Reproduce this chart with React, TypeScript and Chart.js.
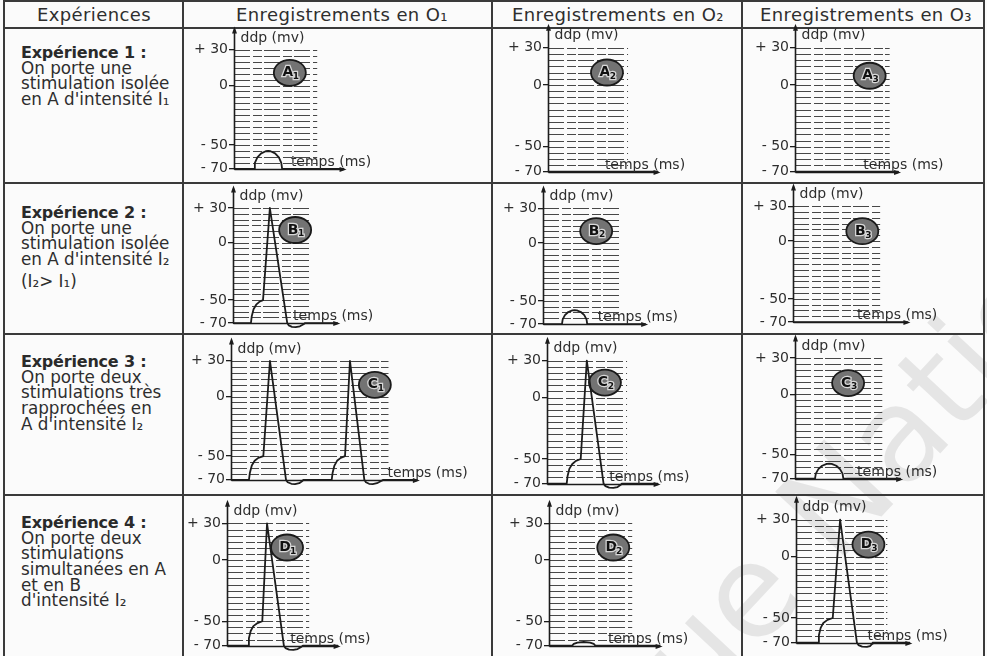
import React, { useEffect, useRef } from 'react';
import { Chart, registerables } from 'chart.js';

Chart.register(...registerables);

const FONT = '"DejaVu Sans", "Liberation Sans", sans-serif';

// ---------- text content ----------
const columnHeaders = ['Expériences', 'Enregistrements en O₁', 'Enregistrements en O₂', 'Enregistrements en O₃'];
const experimentTitles = ['Expérience 1 :', 'Expérience 2 :', 'Expérience 3 :', 'Expérience 4 :'];
const experimentLines = [
  ['On porte une', 'stimulation isolée', "en A d'intensité I₁"],
  ['On porte une', 'stimulation isolée', "en A d'intensité I₂", '(I₂> I₁)'],
  ['On porte deux', 'stimulations très', 'rapprochées en', "A d'intensité I₂"],
  ['On porte deux', 'stimulations', 'simultanées en A', 'et en B', "d'intensité I₂"],
];

// ---------- axis ticks ----------
const yTickValues = [30, 0, -50, -70];
const yTickLabels = ['+ 30', '0', '- 50', '- 70'];
const gridLevels = [30, 25, 20, 15, 10, 5, 0, -5, -10, -15, -20, -25, -30, -35, -40, -45, -50, -55, -60, -65];

// ---------- recordings: time (ms) / ddp (mV) ----------
const a1Time = [0, 1.9, 1.98, 2.22, 2.58, 3.01, 3.24, 3.47, 3.9, 4.26, 4.49, 4.57, 10.4];
const a1Ddp = [-70, -70, -64.9, -60.4, -57, -55.2, -55, -55.2, -57, -60.4, -64.9, -70, -70];
const a2Time = [0, 10.4];
const a2Ddp = [-70, -70];
const a3Time = [0, 9.8];
const a3Ddp = [-70, -70];

const b1Time = [0, 1.7, 1.78, 1.95, 2.2, 2.5, 2.85, 3.5, 5.15, 5.3, 5.6, 5.95, 6.35, 6.7, 6.85, 9.9];
const b1Ddp = [-70, -70, -64, -58, -54, -51.5, -50, 30, -70, -72, -73.3, -73.5, -72.8, -71, -70, -70];
const b2Time = [0, 1.8, 1.87, 2.08, 2.4, 2.79, 3.0, 3.21, 3.6, 3.92, 4.13, 4.2, 9.7];
const b2Ddp = [-70, -70, -65.9, -62.3, -59.6, -58.2, -58, -58.2, -59.6, -62.3, -65.9, -70, -70];
const b3Time = [0, 10.9];
const b3Ddp = [-70, -70];

const c1Time = [0, 1.71, 1.8, 1.98, 2.25, 2.6, 3.08, 3.71, 5.24, 5.4, 5.75, 6.1, 6.5, 6.8, 6.89,
  9.59, 9.68, 9.85, 10.1, 10.45, 10.86, 11.33, 12.7, 12.85, 13.15, 13.5, 13.9, 14.3, 14.5, 17.7];
const c1Ddp = [-70, -70, -64, -58, -54, -51.5, -50, 30, -70, -72, -73.3, -73.5, -72.8, -71, -70,
  -70, -64, -58, -54, -51.5, -50, 30, -70, -72, -73.3, -73.5, -72.8, -71, -70, -70];
const c2Time = [0, 1.87, 1.95, 2.12, 2.4, 2.75, 3.2, 3.78, 5.37, 5.55, 5.9, 6.3, 6.7, 7.0, 7.1, 10.5];
const c2Ddp = [-70, -70, -64, -58, -54, -51.5, -50, 30, -70, -72, -73.3, -73.5, -72.8, -71, -70, -70];
const c3Time = [0, 1.9, 1.98, 2.22, 2.58, 3.02, 3.25, 3.48, 3.93, 4.28, 4.52, 4.6, 10];
const c3Ddp = [-70, -70, -65.7, -62, -59.2, -57.7, -57.5, -57.7, -59.2, -62, -65.7, -70, -70];

const d1Time = [0, 2.0, 2.08, 2.25, 2.5, 2.9, 3.35, 3.8, 5.4, 5.55, 5.9, 6.3, 6.7, 7.05, 7.2, 10.5];
const d1Ddp = [-70, -70, -64, -58, -54, -51.5, -50, 30, -70, -72, -73.3, -73.5, -72.8, -71, -70, -70];
const d2Time = [0, 2.2, 2.35, 2.7, 3.3, 3.9, 4.25, 4.4, 10.5];
const d2Ddp = [-70, -70, -68.6, -67.5, -67, -67.5, -68.6, -70, -70];
const d3Time = [0, 2.1, 2.18, 2.35, 2.6, 3.0, 3.5, 4.2, 5.8, 5.95, 6.3, 6.75, 7.05, 7.25, 7.3, 10.8];
const d3Ddp = [-70, -70, -64, -58, -54, -51.5, -50, 30, -70, -72, -73.3, -73.5, -72.8, -71, -70, -70];

// ---------- layout ----------
const AXIS_W = 40; // room for y tick labels
const PXU = 10.5; // px per time unit
const Y_MAX = 50;
const Y_MIN = -76;

type Spec = {
  time: number[]; ddp: number[]; letter: string; sub: string;
  axisX: number; y30: number; y70: number;
  gridEnd: number; axisEnd: number; tempsX: number; badge: [number, number]; xMax: number;
};

const specs: Spec[] = [
  { time: a1Time, ddp: a1Ddp, letter: 'A', sub: '1', axisX: 234, y30: 50, y70: 169, gridEnd: 7.9, axisEnd: 10.4, tempsX: 5.4, badge: [5.3, 10.7], xMax: 15 },
  { time: a2Time, ddp: a2Ddp, letter: 'A', sub: '2', axisX: 548, y30: 48, y70: 172, gridEnd: 7.6, axisEnd: 10.4, tempsX: 5.4, badge: [5.6, 10], xMax: 15 },
  { time: a3Time, ddp: a3Ddp, letter: 'A', sub: '3', axisX: 795, y30: 48, y70: 172, gridEnd: 9.0, axisEnd: 9.8, tempsX: 6.5, badge: [7.1, 7.4], xMax: 15.5 },
  { time: b1Time, ddp: b1Ddp, letter: 'B', sub: '1', axisX: 233, y30: 208, y70: 323, gridEnd: 7.4, axisEnd: 9.9, tempsX: 5.7, badge: [5.9, 10.9], xMax: 15 },
  { time: b2Time, ddp: b2Ddp, letter: 'B', sub: '2', axisX: 543, y30: 208, y70: 324, gridEnd: 7.3, axisEnd: 9.7, tempsX: 5.2, badge: [5.05, 10.2], xMax: 15 },
  { time: b3Time, ddp: b3Ddp, letter: 'B', sub: '3', axisX: 793, y30: 206, y70: 322, gridEnd: 8.3, axisEnd: 10.9, tempsX: 6.1, badge: [6.6, 8.4], xMax: 16 },
  { time: c1Time, ddp: c1Ddp, letter: 'C', sub: '1', axisX: 231, y30: 361, y70: 480, gridEnd: 15.0, axisEnd: 17.7, tempsX: 14.9, badge: [13.7, 9.8], xMax: 24 },
  { time: c2Time, ddp: c2Ddp, letter: 'C', sub: '2', axisX: 547, y30: 361, y70: 484, gridEnd: 7.6, axisEnd: 10.5, tempsX: 5.9, badge: [5.5, 12.1], xMax: 15 },
  { time: c3Time, ddp: c3Ddp, letter: 'C', sub: '3', axisX: 795, y30: 358, y70: 479, gridEnd: 8.3, axisEnd: 10, tempsX: 5.9, badge: [5.05, 9.3], xMax: 15.5 },
  { time: d1Time, ddp: d1Ddp, letter: 'D', sub: '1', axisX: 227, y30: 523, y70: 645, gridEnd: 7.8, axisEnd: 10.5, tempsX: 6.0, badge: [5.7, 10.3], xMax: 15 },
  { time: d2Time, ddp: d2Ddp, letter: 'D', sub: '2', axisX: 549, y30: 523, y70: 645, gridEnd: 7.9, axisEnd: 10.5, tempsX: 5.6, badge: [6.1, 10.3], xMax: 15 },
  { time: d3Time, ddp: d3Ddp, letter: 'D', sub: '3', axisX: 796, y30: 520, y70: 643, gridEnd: 8.7, axisEnd: 10.8, tempsX: 6.8, badge: [6.9, 9.7], xMax: 16 },
];

const vLines = [4, 183, 492, 742, 984];
const hLines = [1, 28, 183, 334, 495];
const headerCenters = [94, 342, 618, 866];
const rowTitleCenters = [53, 213, 362, 523];

const INK = '#1c1c1c';
const TEXT = '#2e2e2e';

const cellDecor = {
  id: 'cellDecor',
  beforeDatasetsDraw(chart: any, _args: any, opts: any) {
    const { ctx } = chart;
    const xs = chart.scales.x;
    const ys = chart.scales.y;
    const x0 = xs.getPixelForValue(0);
    const xg = xs.getPixelForValue(opts.gridEnd);
    ctx.save();
    ctx.strokeStyle = '#474747';
    ctx.lineWidth = 1;
    ctx.setLineDash([16, 3, 9, 2]);
    for (const v of gridLevels) {
      const y = Math.round(ys.getPixelForValue(v)) + 0.5;
      ctx.beginPath();
      ctx.moveTo(x0, y);
      ctx.lineTo(xg, y);
      ctx.stroke();
    }
    ctx.setLineDash([]);
    // badge
    const bx = xs.getPixelForValue(opts.badge[0]);
    const by = ys.getPixelForValue(opts.badge[1]);
    ctx.beginPath();
    ctx.ellipse(bx, by, 16, 13, 0, 0, Math.PI * 2);
    ctx.fillStyle = '#737373';
    ctx.fill();
    ctx.lineWidth = 1.8;
    ctx.strokeStyle = '#1a1a1a';
    ctx.stroke();
    ctx.font = `bold 14px ${FONT}`;
    ctx.textAlign = 'center';
    ctx.textBaseline = 'middle';
    ctx.lineWidth = 2.5;
    ctx.strokeStyle = '#d8d8d8';
    ctx.strokeText(opts.letter, bx - 2, by);
    ctx.fillStyle = '#111';
    ctx.fillText(opts.letter, bx - 2, by);
    ctx.font = `bold 9px ${FONT}`;
    ctx.strokeText(opts.sub, bx + 6, by + 4);
    ctx.fillText(opts.sub, bx + 6, by + 4);
    ctx.restore();
  },
  afterDatasetsDraw(chart: any, _args: any, opts: any) {
    const { ctx } = chart;
    const xs = chart.scales.x;
    const ys = chart.scales.y;
    const x0 = Math.round(xs.getPixelForValue(0)) + 0.5;
    const yb = Math.round(ys.getPixelForValue(-70)) + 0.5;
    const yTop = ys.getPixelForValue(47);
    const xEnd = xs.getPixelForValue(opts.axisEnd);
    ctx.save();
    ctx.strokeStyle = INK;
    ctx.fillStyle = INK;
    ctx.lineWidth = 1.6;
    ctx.beginPath();
    ctx.moveTo(x0, yb);
    ctx.lineTo(x0, yTop);
    ctx.moveTo(x0, yb);
    ctx.lineTo(xEnd, yb);
    ctx.stroke();
    // arrow heads
    ctx.beginPath();
    ctx.moveTo(x0, yTop - 3);
    ctx.lineTo(x0 - 2.5, yTop + 4);
    ctx.lineTo(x0 + 2.5, yTop + 4);
    ctx.closePath();
    ctx.fill();
    ctx.beginPath();
    ctx.moveTo(xEnd + 3, yb);
    ctx.lineTo(xEnd - 4, yb - 2.5);
    ctx.lineTo(xEnd - 4, yb + 2.5);
    ctx.closePath();
    ctx.fill();
    // axis titles
    ctx.fillStyle = TEXT;
    ctx.font = `14px ${FONT}`;
    ctx.textAlign = 'left';
    ctx.textBaseline = 'middle';
    ctx.fillText('ddp (mv)', x0 + 6, ys.getPixelForValue(40));
    ctx.textBaseline = 'alphabetic';
    ctx.fillText('temps (ms)', xs.getPixelForValue(opts.tempsX), yb - 4);
    ctx.restore();
  },
};

function MiniChart({ spec }: { spec: Spec }) {
  const ref = useRef<HTMLCanvasElement | null>(null);
  const ppm = (spec.y70 - spec.y30) / 100;
  const left = Math.round(spec.axisX - AXIS_W);
  const width = Math.round(AXIS_W + spec.xMax * PXU);
  const top = Math.round(spec.y30 - (Y_MAX - 30) * ppm);
  const height = Math.round((Y_MAX - Y_MIN) * ppm);

  useEffect(() => {
    if (!ref.current) return;
    const chart = new Chart(ref.current, {
      type: 'line',
      data: {
        datasets: [
          {
            data: spec.time.map((t, i) => ({ x: t, y: spec.ddp[i] })),
            borderColor: INK,
            borderWidth: 1.8,
            pointRadius: 0,
            tension: 0,
            fill: false,
            borderJoinStyle: 'round',
            borderCapStyle: 'round',
          },
        ],
      },
      options: {
        animation: false,
        responsive: false,
        maintainAspectRatio: false,
        events: [],
        layout: { padding: 0 },
        plugins: {
          legend: { display: false },
          tooltip: { enabled: false },
          title: { display: false },
          cellDecor: {
            gridEnd: spec.gridEnd,
            axisEnd: spec.axisEnd,
            tempsX: spec.tempsX,
            badge: spec.badge,
            letter: spec.letter,
            sub: spec.sub,
          },
        } as any,
        scales: {
          x: { type: 'linear', min: 0, max: spec.xMax, display: false },
          y: {
            type: 'linear',
            min: Y_MIN,
            max: Y_MAX,
            position: 'left',
            afterBuildTicks: (s: any) => {
              s.ticks = yTickValues.map((v) => ({ value: v }));
            },
            afterFit: (s: any) => {
              s.width = AXIS_W;
              s.paddingTop = 0;
              s.paddingBottom = 0;
            },
            ticks: {
              autoSkip: false,
              padding: 1,
              color: TEXT,
              font: { family: FONT, size: 14 },
              callback: (v: any) => {
                const i = yTickValues.indexOf(Number(v));
                return i >= 0 ? yTickLabels[i] : '';
              },
            },
            grid: { display: true, drawOnChartArea: false, drawTicks: true, tickLength: 5, color: INK, lineWidth: 1.3 },
            border: { display: false },
          },
        },
      } as any,
      plugins: [cellDecor as any],
    });
    return () => chart.destroy();
  }, [spec]);

  return (
    <canvas
      ref={ref}
      width={width}
      height={height}
      style={{ position: 'absolute', left, top, width, height }}
    />
  );
}

export default function App() {
  const LINE = 15.6;
  const TITLE_GAP = 15.5;
  return (
    <div
      style={{
        position: 'absolute',
        left: 0,
        top: 0,
        width: 987,
        height: 656,
        background: '#fbfbfb',
        overflow: 'hidden',
        fontFamily: FONT,
        color: TEXT,
      }}
    >
      <div
        style={{
          position: 'absolute',
          left: 560,
          top: 700,
          fontSize: 130,
          color: 'rgba(0,0,0,0.085)',
          transform: 'rotate(-47deg)',
          transformOrigin: '0 0',
          whiteSpace: 'nowrap',
          lineHeight: '130px',
        }}
      >
        que Nation
      </div>
      {vLines.map((x, i) => (
        <div key={'v' + i} style={{ position: 'absolute', left: x - 1, top: 0, width: 2, height: 656, background: '#3a3a3a' }} />
      ))}
      {hLines.map((y, i) => (
        <div key={'h' + i} style={{ position: 'absolute', left: 3, top: y - 1, width: 982, height: 2, background: '#3a3a3a' }} />
      ))}
      {columnHeaders.map((h, i) => (
        <div
          key={'hd' + i}
          style={{
            position: 'absolute',
            left: headerCenters[i] - 150,
            width: 300,
            top: 15 - 11,
            height: 22,
            lineHeight: '22px',
            textAlign: 'center',
            fontSize: 18,
            letterSpacing: 0.4,
            whiteSpace: 'nowrap',
          }}
        >
          {h}
        </div>
      ))}
      {experimentTitles.map((t, r) => (
        <React.Fragment key={'row' + r}>
          <div
            style={{
              position: 'absolute',
              left: 21,
              top: rowTitleCenters[r] - LINE / 2,
              lineHeight: LINE + 'px',
              fontSize: 16,
              fontWeight: 'bold',
              letterSpacing: -0.2,
              whiteSpace: 'nowrap',
              color: '#2a2a2a',
            }}
          >
            {t}
          </div>
          {experimentLines[r].map((line, k) => (
            <div
              key={'l' + k}
              style={{
                position: 'absolute',
                left: 21,
                top:
                  rowTitleCenters[r] + TITLE_GAP + k * LINE - LINE / 2 + (r === 1 && k === 3 ? 6 : 0),
                lineHeight: LINE + 'px',
                fontSize: 16.8,
                whiteSpace: 'nowrap',
              }}
            >
              {line}
            </div>
          ))}
        </React.Fragment>
      ))}
      {specs.map((s, i) => (
        <MiniChart key={'c' + i} spec={s} />
      ))}
    </div>
  );
}
